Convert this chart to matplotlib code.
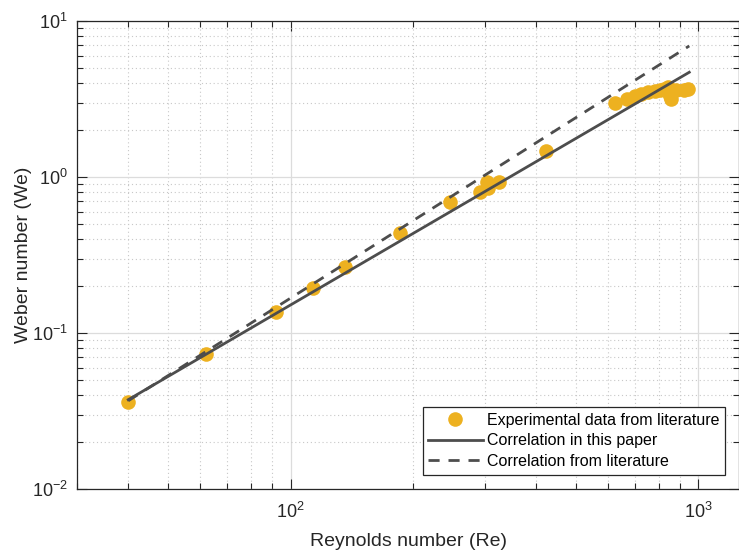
import numpy as np
import matplotlib.pyplot as plt
from matplotlib.ticker import LogLocator, NullFormatter, FuncFormatter

plt.rcParams['font.family'] = ['Liberation Sans', 'DejaVu Sans']
plt.rcParams['mathtext.fontset'] = 'custom'
plt.rcParams['mathtext.rm'] = 'Liberation Sans'
plt.rcParams['mathtext.default'] = 'regular'

# experimental points (Re, We)
re_exp = [40, 62, 92, 113.5, 136, 186, 246, 292, 303, 305, 325, 423,
          625, 669, 700, 724, 753, 783, 805, 824, 843, 848, 852, 857, 880, 922, 943]
we_exp = [0.0363, 0.0737, 0.137, 0.195, 0.266, 0.44, 0.695, 0.809, 0.937, 0.854, 0.929, 1.474,
          2.99, 3.18, 3.32, 3.42, 3.52, 3.57, 3.63, 3.68, 3.79, 3.45, 3.3, 3.18, 3.6, 3.63, 3.68]

# correlation lines (end points)
re_line = [40, 950]
we_paper = [0.0374, 4.71]
we_lit = [0.0368, 6.95]

txt = '#262626'

fig = plt.figure(figsize=(7.39, 5.50), dpi=100)
ax = fig.add_axes([0.1046, 0.1109, 0.8954, 0.8504])

ax.plot(re_exp, we_exp, 'o', color='#EDB120', markersize=10.5, markeredgewidth=0,
        label='Experimental data from literature', zorder=3)
ax.plot(re_line, we_paper, '-', color='#4D4D4D', linewidth=2,
        label='Correlation in this paper', zorder=4)
ax.plot(re_line, we_lit, '--', color='#4D4D4D', linewidth=2, dashes=(4, 3.2),
        label='Correlation from literature', zorder=4)

ax.set_xscale('log')
ax.set_yscale('log')
ax.set_xlim(30, 1258)
ax.set_ylim(0.01, 10)

pow10 = FuncFormatter(lambda v, p: r'$10^{%d}$' % round(np.log10(v)))
ax.xaxis.set_major_formatter(pow10)
ax.yaxis.set_major_formatter(pow10)
ax.xaxis.set_minor_locator(LogLocator(base=10, subs=np.arange(2, 10)))
ax.yaxis.set_minor_locator(LogLocator(base=10, subs=np.arange(2, 10)))
ax.xaxis.set_minor_formatter(NullFormatter())
ax.yaxis.set_minor_formatter(NullFormatter())

ax.grid(True, which='major', color='#DCDCDC', linewidth=0.9, linestyle='-')
ax.grid(True, which='minor', color='#C8C8C8', linewidth=0.8, linestyle=(0, (1, 2.5)))
ax.set_axisbelow(True)

ax.tick_params(which='both', direction='in', top=True, right=True, colors=txt,
               labelsize=13)
ax.tick_params(axis='x', which='major', pad=9)
ax.tick_params(axis='y', which='major', pad=7)
ax.tick_params(which='major', length=7, width=0.8)
ax.tick_params(which='minor', length=4, width=0.8)
for s in ax.spines.values():
    s.set_color(txt)
    s.set_linewidth(0.9)

ax.set_xlabel('Reynolds number (Re)', fontsize=14, color=txt, labelpad=8)
ax.set_ylabel('Weber number (We)', fontsize=14, color=txt)
ax.yaxis.set_label_coords(-0.068, 0.5)

leg = ax.legend(loc='lower right', fontsize=11.5, frameon=True, fancybox=False,
                framealpha=1, edgecolor=txt, handlelength=3.4, handletextpad=0.25,
                labelspacing=0.35, borderpad=0.35, borderaxespad=0.9)
leg.get_frame().set_linewidth(0.9)

fig.savefig('out.png', dpi=100)
